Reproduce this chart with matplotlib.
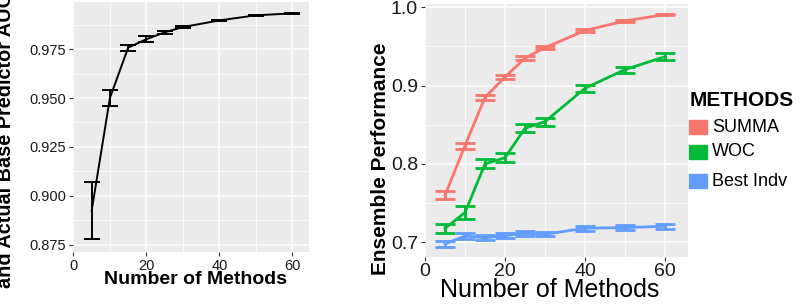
import matplotlib
matplotlib.use("Agg")
import matplotlib.pyplot as plt
import matplotlib.ticker as ticker
from matplotlib.patches import Rectangle

plt.rcParams["font.family"] = ["Liberation Sans", "DejaVu Sans"]

# --- Data ---
n_methods = [5, 10, 15, 20, 25, 30, 40, 50, 60]

corr_mean = [0.8925, 0.950, 0.9757, 0.980, 0.9835, 0.9862, 0.9896, 0.9922, 0.9932]
corr_err  = [0.0147, 0.0042, 0.0015, 0.0014, 0.0007, 0.0004, 0.0003, 0.0002, 0.0002]

summa_mean = [0.760, 0.8234, 0.885, 0.911, 0.935, 0.9485, 0.9704, 0.9826, 0.9907]
summa_err  = [0.0049, 0.0038, 0.0032, 0.0026, 0.0026, 0.0021, 0.0019, 0.0013, 0.0010]
woc_mean   = [0.7177, 0.738, 0.800, 0.808, 0.8455, 0.854, 0.8966, 0.9205, 0.937]
woc_err    = [0.0062, 0.0077, 0.0058, 0.0060, 0.0051, 0.0050, 0.0043, 0.0039, 0.0043]
best_mean  = [0.698, 0.708, 0.7057, 0.7085, 0.7115, 0.7102, 0.718, 0.7187, 0.7205]
best_err   = [0.0037, 0.0034, 0.0032, 0.0030, 0.0030, 0.0026, 0.0030, 0.0030, 0.0030]

method_names  = ["SUMMA", "WOC", "Best Indv"]
method_colors = ["#F8766D", "#00BA38", "#619CFF"]

W, H = 802, 304
fig = plt.figure(figsize=(W / 100, H / 100), dpi=100)


def style_panel(ax, tick_size):
    ax.set_facecolor("#EBEBEB")
    for s in ax.spines.values():
        s.set_visible(False)
    ax.grid(True, which="major", color="white", lw=1.1)
    ax.grid(True, which="minor", color="white", lw=0.5)
    ax.set_axisbelow(True)
    ax.tick_params(which="major", length=3, width=0.8, color="#333333",
                   labelsize=tick_size, labelcolor="#1a1a1a", pad=2)
    ax.tick_params(which="minor", length=0)
    ax.xaxis.set_major_locator(ticker.MultipleLocator(20))
    ax.xaxis.set_minor_locator(ticker.MultipleLocator(10))


# --- Left panel ---
ax1 = fig.add_axes([72.7 / W, (H - 252) / H, 236 / W, 250 / H])
style_panel(ax1, 10.5)
ax1.errorbar(n_methods, corr_mean, yerr=corr_err, color="black", lw=1.4,
             capsize=5.8, capthick=1.4, elinewidth=1.4)
ax1.set_xlim(-0.2, 64.5)
ax1.set_ylim(0.8714, 0.999)
ax1.yaxis.set_major_locator(ticker.MultipleLocator(0.025))
ax1.yaxis.set_minor_locator(ticker.MultipleLocator(0.0125))
ax1.yaxis.set_major_formatter(ticker.FormatStrFormatter("%.3f"))
fig.text(195 / W, 1 - 280 / H, "Number of Methods", fontsize=14,
         fontweight="bold", ha="center", va="center")
fig.text(6 / W, 1 - 140 / H, "and Actual Base Predictor AUC", fontsize=14.3,
         fontweight="bold", rotation=90, ha="center", va="center")

# --- Right panel ---
ax2 = fig.add_axes([425 / W, (H - 257) / H, 263 / W, 253 / H])
style_panel(ax2, 14)
for mean, err, col in zip([summa_mean, woc_mean, best_mean],
                          [summa_err, woc_err, best_err], method_colors):
    ax2.errorbar(n_methods, mean, yerr=err, color=col, lw=2,
                 capsize=7.5, capthick=2, elinewidth=2)
ax2.set_xlim(0, 65.75)
ax2.set_ylim(0.6812, 1.0042)
ax2.yaxis.set_major_locator(ticker.MultipleLocator(0.1))
ax2.yaxis.set_minor_locator(ticker.MultipleLocator(0.05))
ax2.yaxis.set_major_formatter(ticker.FormatStrFormatter("%.1f"))
ax2.tick_params(axis="x", pad=1)
fig.text(550 / W, 1 - 290 / H, "Number of Methods", fontsize=18,
         ha="center", va="center")
fig.text(380 / W, 1 - 158.5 / H, "Ensemble Performance", fontsize=15,
         fontweight="bold", rotation=90, ha="center", va="center")

# --- Legend ---
fig.text(690 / W, 1 - 100 / H, "METHODS", fontsize=15, fontweight="bold",
         ha="left", va="center")
for name, col, yc in zip(method_names, method_colors, [127, 152, 181]):
    fig.patches.append(Rectangle((689 / W, 1 - (yc + 7) / H), 18 / W, 14 / H,
                                 transform=fig.transFigure, color=col))
    fig.text(712 / W, 1 - yc / H, name, fontsize=13, ha="left", va="center")

fig.savefig("out.png", dpi=100)
